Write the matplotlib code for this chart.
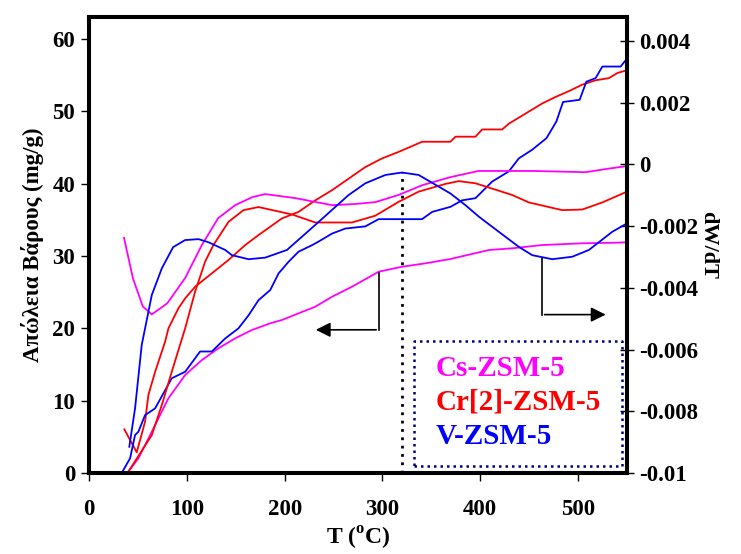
import numpy as np
import matplotlib
matplotlib.use("Agg")
import matplotlib.pyplot as plt
from matplotlib.ticker import FixedLocator, FixedFormatter

# TG curves (weight loss, mg/g)
cs_T = [39, 50.5, 64.2, 81.2, 98.3, 115.4, 132.3, 149.4, 166.5, 185.3, 197.2, 214.2, 231.3,
        248.4, 268.9, 296.1, 320.1, 343.9, 369.5, 408.7, 432.7, 463.4, 504.3, 538.4, 550]
cs_w = [0.0, 2.03, 5.71, 10.33, 13.55, 15.62, 17.24, 18.62, 19.77, 20.70, 21.15, 22.08, 22.99,
        24.37, 25.76, 27.83, 28.52, 28.99, 29.59, 30.83, 31.07, 31.52, 31.76, 31.84, 31.9]

cr_T = [36.1, 48.8, 57.3, 60.7, 67.6, 77.8, 81.2, 91.4, 98.3, 108.5, 125.6, 142.6, 159.7, 173.3,
        197.2, 214.2, 231.3, 248.4, 265.4, 282.5, 299.6, 316.6, 340.5, 369.5, 374.6, 395.1,
        401.9, 422.4, 429.2, 446.3, 463.4, 477, 490.6, 504.3, 517.9, 531.5, 540.1, 550]
cr_w = [6.04, 2.86, 7.09, 10.78, 14.0, 18.15, 20.0, 22.77, 24.15, 25.76, 27.61, 29.45, 31.52, 32.9,
        35.2, 36.1, 37.7, 39.1, 40.7, 42.3, 43.5, 44.4, 45.8, 45.8, 46.5, 46.5,
        47.5, 47.5, 48.3, 49.7, 51.1, 52.0, 52.8, 53.7, 54.3, 54.6, 55.3, 55.7]

v_T = [33.4, 42, 47.1, 50.5, 57.3, 67.6, 84.6, 98.3, 113.6, 125.6, 139.2, 152.8, 163.1, 173.3,
       185.3, 193.8, 204, 214.2, 228, 234.7, 248.4, 262, 282.5, 296.1, 340.5, 350.8, 369.5,
       381.4, 395.1, 412.2, 429.2, 439.4, 453.1, 467.7, 477.8, 484.6, 501.6, 508.4, 517.9,
       524.8, 543.5, 550]
v_w = [0.0, 2.03, 5.25, 5.71, 8.0, 8.94, 13.1, 14.0, 16.8, 16.8, 18.6, 20.0, 21.8, 23.9,
       25.3, 27.6, 29.2, 30.6, 31.5, 32.0, 33.1, 33.8, 34.1, 35.1, 35.1, 36.1, 36.8,
       37.7, 38.0, 40.3, 41.7, 43.5, 44.7, 46.3, 48.6, 51.3, 51.6, 54.1, 54.6,
       56.2, 56.2, 57.3]

# DTG curves (dW/dT)
cs_dT = [35.8, 45, 55, 64.2, 80, 98.3, 115.4, 132, 149.4, 166.8, 180.1, 210.8, 248.7, 272.3,
         292.7, 316.3, 340.8, 369.5, 398.2, 453.4, 507.7, 528, 550]
cs_d = [-0.00238, -0.0037, -0.0046, -0.00486, -0.00450, -0.00368, -0.00261, -0.00174, -0.00132,
        -0.00106, -0.00096, -0.00109, -0.00132, -0.00128, -0.00122, -0.00099, -0.00067,
        -0.00041, -0.00021, -0.00021, -0.00025, -0.00015, -0.00005]

cr_dT = [40.2, 64.2, 74.4, 84.6, 98.3, 108.5, 118.7, 127.2, 142.6, 157.9, 173.3, 207.5, 231.3,
         268.9, 292.7, 316.6, 337, 364.4, 378, 395.1, 432.7, 449.6, 483.8, 504.3, 524.8, 550]
cr_d = [-0.00996, -0.00877, -0.0078, -0.00672, -0.00531, -0.00412, -0.00315, -0.00261, -0.00186,
        -0.00148, -0.00138, -0.00162, -0.00188, -0.00188, -0.00166, -0.00121, -0.00088,
        -0.00063, -0.00054, -0.00061, -0.00099, -0.00123, -0.00148, -0.00146, -0.00123, -0.00088]

v_dT = [41.2, 47.1, 53.9, 64.2, 74.4, 86, 98.3, 111.9, 122.1, 139.2, 146.1, 163.1, 180.1, 202.4,
        231.3, 265.4, 282.5, 303, 320, 337, 369.5, 384.9, 398.5, 418.9, 439.4, 453.1, 473.6,
        494.1, 511.1, 535, 550]
v_d = [-0.00915, -0.0079, -0.00585, -0.00423, -0.00337, -0.00268, -0.00245, -0.00242, -0.00252,
       -0.00277, -0.00294, -0.00307, -0.00302, -0.00277, -0.00196, -0.00099, -0.00061, -0.00034,
       -0.00026, -0.00034, -0.00094, -0.00132, -0.00169, -0.00218, -0.00267, -0.00294, -0.00307,
       -0.00299, -0.00277, -0.00218, -0.00191]

names = ["Cs-ZSM-5", "Cr[2]-ZSM-5", "V-ZSM-5"]
colors = ["#FF00FF", "#FF0000", "#0000FF"]

x_ticks = [0, 100, 200, 300, 400, 500]
y_ticks = [0, 10, 20, 30, 40, 50, 60]
r_ticks = [0.004, 0.002, 0, -0.002, -0.004, -0.006, -0.008, -0.01]
r_labels = ["0.004", "0.002", "0", "-0.002", "-0.004", "-0.006", "-0.008", "-0.01"]

plt.rcParams["font.family"] = ["Liberation Serif", "DejaVu Serif"]
plt.rcParams["font.weight"] = "bold"
plt.rcParams["mathtext.fontset"] = "custom"
plt.rcParams["mathtext.rm"] = "Liberation Serif:bold"
plt.rcParams["mathtext.bf"] = "Liberation Serif:bold"
plt.rcParams["axes.unicode_minus"] = False

fig = plt.figure(figsize=(7.41, 5.54), dpi=100)
ax = fig.add_axes([89 / 741, 1 - 473 / 554, (627 - 89) / 741, (473 - 17) / 554])
ax2 = ax.twinx()

lw = 1.3
ax.plot(cs_T, cs_w, color=colors[0], lw=lw)
ax.plot(cr_T, cr_w, color=colors[1], lw=lw)
ax.plot(v_T, v_w, color=colors[2], lw=lw)
ax2.plot(cs_dT, cs_d, color=colors[0], lw=lw)
ax2.plot(cr_dT, cr_d, color=colors[1], lw=lw)
ax2.plot(v_dT, v_d, color=colors[2], lw=lw)

ax.set_xlim(0, 550)
ax.set_ylim(0, 63.05)
ax2.set_ylim(-0.01, 0.00478)

# dotted marker line at the DTG peak of V-ZSM-5
ax.plot([320, 320], [0, 41.6], color="black", lw=2, linestyle=(0, (1, 2)))

# arrows pointing to the axis each curve family belongs to
ax.plot([296, 296], [27.6, 19.8], color="black", lw=1.2)
ax.annotate("", xy=(229, 19.8), xytext=(296.5, 19.8),
            arrowprops=dict(arrowstyle="-|>", color="black", lw=1.2, mutation_scale=22))
ax.plot([463.4, 463.4], [29.7, 21.9], color="black", lw=1.2)
ax.annotate("", xy=(531, 21.9), xytext=(462.9, 21.9),
            arrowprops=dict(arrowstyle="-|>", color="black", lw=1.2, mutation_scale=22))

# legend box
ax.plot([332.7, 544.5, 544.5, 332.7, 332.7], [1.0, 1.0, 18.3, 18.3, 1.0],
        color="#000080", lw=1.8, linestyle=(0, (1, 1.6)))
for name, c, yy in zip(names, colors, [14.5, 9.8, 5.0]):
    ax.text(354, yy, name, color=c, fontsize=21, fontweight="bold", va="center", ha="left")

ax.xaxis.set_major_locator(FixedLocator(x_ticks))
ax.yaxis.set_major_locator(FixedLocator(y_ticks))
ax2.yaxis.set_major_locator(FixedLocator(r_ticks))
ax2.yaxis.set_major_formatter(FixedFormatter(r_labels))

for a in (ax, ax2):
    for s in a.spines.values():
        s.set_linewidth(2.9)
ax.tick_params(axis="both", direction="out", length=6, width=1, labelsize=16.5, pad=4)
ax.tick_params(axis="x", pad=13)
ax2.tick_params(axis="y", direction="inout", length=10, width=1, labelsize=16.5, pad=4)
for lab in ax.get_xticklabels() + ax.get_yticklabels() + ax2.get_yticklabels():
    lab.set_fontweight("bold")

ax.set_xlabel(r"T ($^{\mathbf{o}}$C)", fontsize=17, fontweight="bold", labelpad=3)
ax.set_ylabel("Απώλεια Βάρους (mg/g)", fontsize=16.5, fontweight="bold", labelpad=6)
ax2.set_ylabel("dW/dT", fontsize=16, fontweight="bold", rotation=270, labelpad=14)

fig.savefig("out.png", dpi=100)
